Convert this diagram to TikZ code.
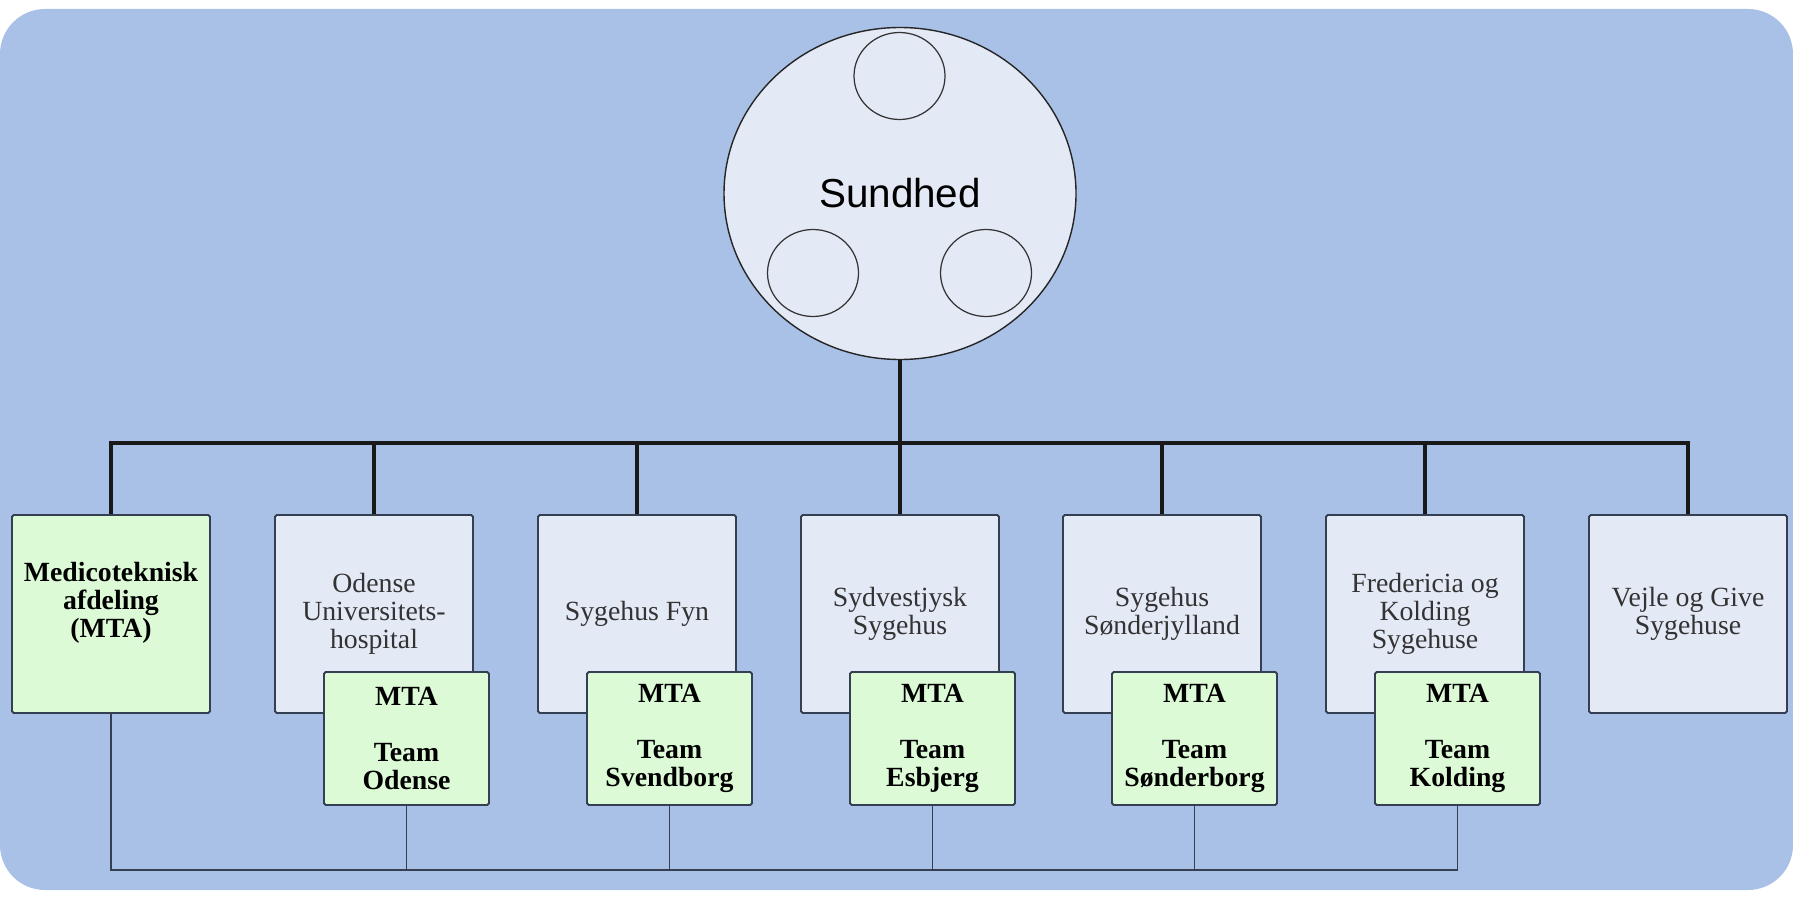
\documentclass[tikz,border=0pt]{standalone}
\usepackage{fontspec}
\setmainfont{Liberation Serif}
\newfontfamily\headfont{Liberation Sans}
\usepackage{tikz}
\usetikzlibrary{
    calc,
    positioning,
    shapes.geometric
}

\begin{document}
\begin{tikzpicture}[
    font=\fontsize{15.8}{16}\selectfont,
    box/.style={
    	draw=my-edge, fill=my-lilac,
    	minimum width=3.96cm,
    	minimum height=3.96cm,
    	rounded corners=1pt, line width=1.1pt, inner sep=2pt, align=center,
    	text=black!80
    }, team/.style={
    	box, fill=my-green, text=black,
    	minimum width=3.3cm,
    	minimum height=2.66cm,
    	font=\fontsize{15.8}{16}\selectfont\bfseries
    }, ring/.style={
    	draw=black!80, fill=my-lilac, ellipse, line width=0.7pt,
    	minimum width=1.82cm, minimum height=1.74cm
    }, trunk/.style={
    	line width=2.3pt, black!90
    }, link/.style={
    	line width=1.1pt, my-edge
    }]
    \definecolor{my-blue}{RGB}{169, 193, 230}
    \definecolor{my-lilac}{RGB}{228, 233, 246}
    \definecolor{my-green}{RGB}{221, 250, 214}
    \definecolor{my-edge}{RGB}{52, 64, 82}

    \useasboundingbox (0,0) rectangle (35.86,-17.96);
    \fill[my-blue, rounded corners=0.9cm] (0,-0.18) rectangle (35.86,-17.8);

    %%% Sundhed
    \node[ellipse, draw=black!85, fill=my-lilac, line width=0.8pt,
          minimum width=7.04cm, minimum height=6.64cm,
          font=\headfont\fontsize{23}{24}\selectfont] (sundhed) at (18,-3.87) {Sundhed};
    \node[ring] (ring-1) at (17.99,-1.52) {};
    \node[ring] (ring-2) at (16.26,-5.46) {};
    \node[ring] (ring-3) at (19.72,-5.46) {};

    %%% hospitals
    \node[box, fill=my-green, text=black, font=\fontsize{15.8}{16}\selectfont\bfseries] (mta) at (2.22,-12.28) {Medicoteknisk\\afdeling\\(MTA)\\ \mbox{}};
    \node[box] (hosp-1) at (7.48,-12.28) {Odense\\Universitets-\\hospital};
    \node[box] (hosp-2) at (12.74,-12.28) {Sygehus Fyn};
    \node[box] (hosp-3) at (18.00,-12.28) {Sydvestjysk\\Sygehus};
    \node[box] (hosp-4) at (23.24,-12.28) {Sygehus\\Sønderjylland};
    \node[box] (hosp-5) at (28.50,-12.28) {Fredericia og\\Kolding\\Sygehuse};
    \node[box] (hosp-6) at (33.76,-12.28) {Vejle og Give\\Sygehuse};

    %%% MTA teams
    \node[team] (team-1) at ($(hosp-1)+(0.65,-2.49)$) {MTA\\[16pt]Team\\Odense};
    \node[team] (team-2) at ($(hosp-2)+(0.65,-2.49)$) {MTA\\[16pt]Team\\Svendborg};
    \node[team] (team-3) at ($(hosp-3)+(0.65,-2.49)$) {MTA\\[16pt]Team\\Esbjerg};
    \node[team] (team-4) at ($(hosp-4)+(0.65,-2.49)$) {MTA\\[16pt]Team\\Sønderborg};
    \node[team] (team-5) at ($(hosp-5)+(0.65,-2.49)$) {MTA\\[16pt]Team\\Kolding};

    %%% EDGES
    \coordinate (bus) at (18,-8.86);
    \coordinate (low) at (2.22,-17.4);

    \draw[trunk] (sundhed.south) -- (bus);
    \draw[trunk] (bus) -| (mta.north);
    \draw[trunk] (bus) -| (hosp-1.north);
    \draw[trunk] (bus) -| (hosp-2.north);
    \draw[trunk] (bus) -- (hosp-3.north);
    \draw[trunk] (bus) -| (hosp-4.north);
    \draw[trunk] (bus) -| (hosp-5.north);
    \draw[trunk] (bus) -| (hosp-6.north);

    \draw[link] (mta.south) -- (low) -| (team-5.south);
    \draw[link] (team-1.south) -- (team-1.south |- low);
    \draw[link] (team-2.south) -- (team-2.south |- low);
    \draw[link] (team-3.south) -- (team-3.south |- low);
    \draw[link] (team-4.south) -- (team-4.south |- low);

\end{tikzpicture}
\end{document}
